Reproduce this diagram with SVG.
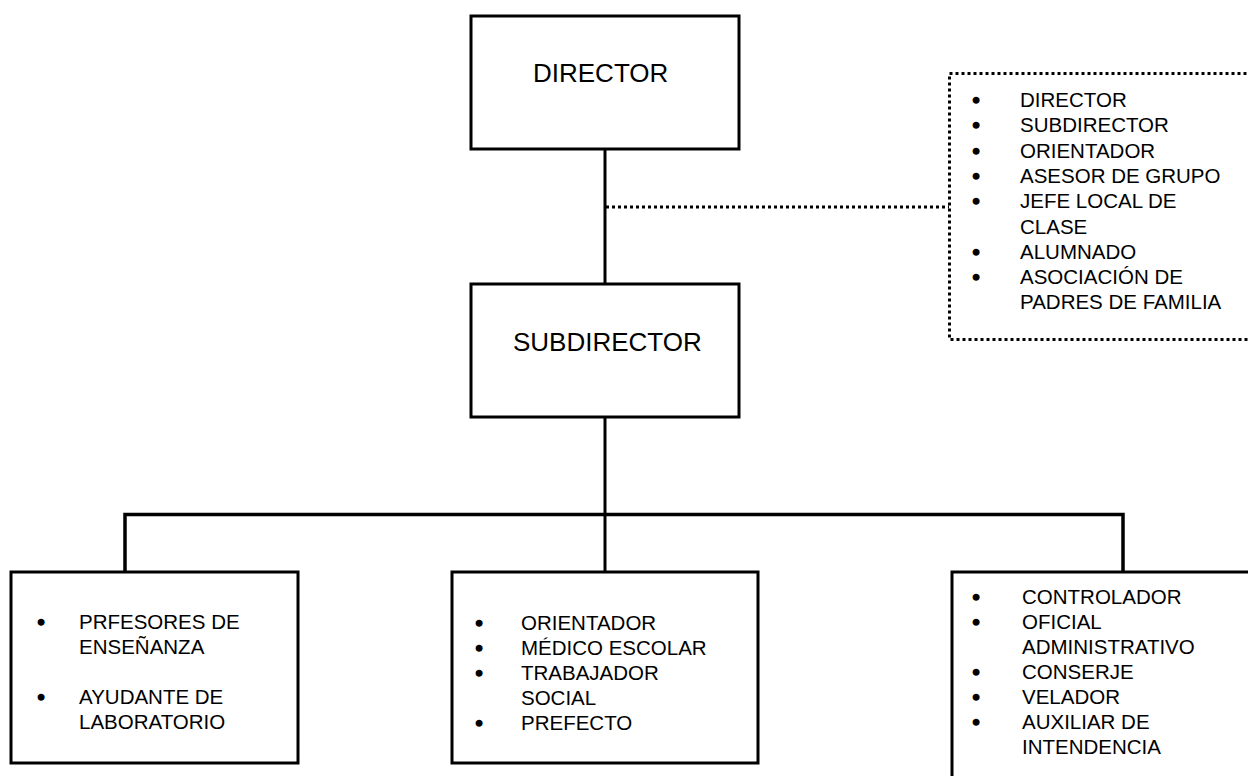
<svg xmlns="http://www.w3.org/2000/svg" width="1248" height="776" viewBox="0 0 1248 776">
<style>
.box{fill:#fff;stroke:#000;stroke-width:3}
.dot{fill:#fff;stroke:#000;stroke-width:3;stroke-dasharray:3 3}
.ln{fill:none;stroke:#000;stroke-width:3}
.dl{fill:none;stroke:#000;stroke-width:3;stroke-dasharray:3 3}
.t{font-family:"Liberation Sans",Arial,sans-serif;font-size:26px;fill:#000}
.b{font-family:"Liberation Sans",Arial,sans-serif;font-size:20.5px;fill:#000}
.u{stroke:#000;stroke-width:1.4}
</style>
<rect width="1248" height="776" fill="#fff"/>
<g id="connectors">
<line class="ln" x1="605" y1="149" x2="605" y2="284"/>
<line class="dl" x1="606" y1="207" x2="949" y2="207"/>
<line class="ln" x1="605" y1="417" x2="605" y2="572"/>
<path class="ln" d="M125 572 V514.5 H1123 V572" style="stroke-width:3.5"/>
</g>
<g id="director">
<rect class="box" x="471" y="16" width="268" height="133"/>
<text class="t" x="533" y="82">DIRECTOR</text>
</g>
<g id="subdirector">
<rect class="box" x="471" y="284" width="268" height="133"/>
<text class="t" x="513" y="351">SUBDIRECTOR</text>
</g>
<g id="consejo">
<rect class="dot" x="949.5" y="73.5" width="400" height="266"/>
<g class="b">
<text y="107"><tspan class="u" x="972.4">•</tspan><tspan x="1020">DIRECTOR</tspan></text>
<text y="132.3"><tspan class="u" x="972.4">•</tspan><tspan x="1020">SUBDIRECTOR</tspan></text>
<text y="157.6"><tspan class="u" x="972.4">•</tspan><tspan x="1020">ORIENTADOR</tspan></text>
<text y="182.9"><tspan class="u" x="972.4">•</tspan><tspan x="1020">ASESOR DE GRUPO</tspan></text>
<text y="208.2"><tspan class="u" x="972.4">•</tspan><tspan x="1020">JEFE LOCAL DE</tspan></text>
<text x="1020" y="233.5">CLASE</text>
<text y="258.8"><tspan class="u" x="972.4">•</tspan><tspan x="1020">ALUMNADO</tspan></text>
<text y="284.1"><tspan class="u" x="972.4">•</tspan><tspan x="1020">ASOCIACIÓN DE</tspan></text>
<text x="1020" y="309.4">PADRES DE FAMILIA</text>
</g>
</g>
<g id="docentes">
<rect class="box" x="11" y="572" width="287" height="191"/>
<g class="b">
<text y="629"><tspan class="u" x="37.4">•</tspan><tspan x="79">PRFESORES DE</tspan></text>
<text x="79" y="654">ENSEÑANZA</text>
<text y="704"><tspan class="u" x="37.4">•</tspan><tspan x="79">AYUDANTE DE</tspan></text>
<text x="79" y="729">LABORATORIO</text>
</g>
</g>
<g id="asistencia">
<rect class="box" x="452" y="572" width="306" height="191"/>
<g class="b">
<text y="630"><tspan class="u" x="475.4">•</tspan><tspan x="521">ORIENTADOR</tspan></text>
<text y="655"><tspan class="u" x="475.4">•</tspan><tspan x="521">MÉDICO ESCOLAR</tspan></text>
<text y="680"><tspan class="u" x="475.4">•</tspan><tspan x="521">TRABAJADOR</tspan></text>
<text x="521" y="705">SOCIAL</text>
<text y="730"><tspan class="u" x="475.4">•</tspan><tspan x="521">PREFECTO</tspan></text>
</g>
</g>
<g id="administracion">
<rect class="box" x="952" y="572" width="400" height="300"/>
<g class="b">
<text y="604"><tspan class="u" x="972.4">•</tspan><tspan x="1022">CONTROLADOR</tspan></text>
<text y="629"><tspan class="u" x="972.4">•</tspan><tspan x="1022">OFICIAL</tspan></text>
<text x="1022" y="654">ADMINISTRATIVO</text>
<text y="679"><tspan class="u" x="972.4">•</tspan><tspan x="1022">CONSERJE</tspan></text>
<text y="704"><tspan class="u" x="972.4">•</tspan><tspan x="1022">VELADOR</tspan></text>
<text y="729"><tspan class="u" x="972.4">•</tspan><tspan x="1022">AUXILIAR DE</tspan></text>
<text x="1022" y="754">INTENDENCIA</text>
</g>
</g>
</svg>
